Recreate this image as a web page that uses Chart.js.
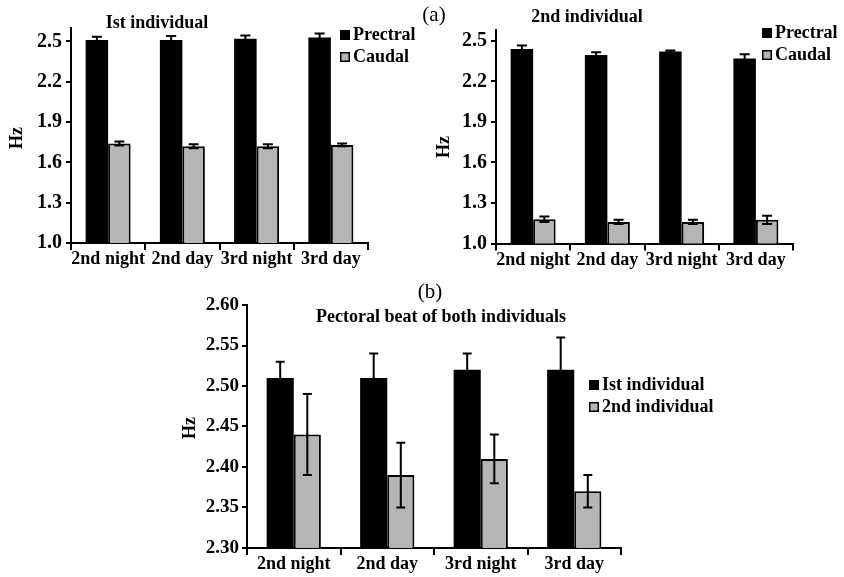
<!DOCTYPE html>
<html>
<head>
<meta charset="utf-8">
<script src="https://cdn.jsdelivr.net/npm/chart.js@4.4.1/dist/chart.umd.min.js"></script>
<style>
  html, body { margin: 0; padding: 0; background: #fff; }
  body { width: 844px; height: 577px; position: relative; overflow: hidden; }
  canvas { position: absolute; }
</style>
</head>
<body>
<canvas id="first-individual" width="422" height="280" style="left:0;top:0"></canvas>
<canvas id="second-individual" width="422" height="280" style="left:422px;top:0"></canvas>
<canvas id="both-individuals" width="600" height="307" style="left:170px;top:270px"></canvas>
<script>
// categories
const periods = ['2nd night', '2nd day', '3rd night', '3rd day'];

// (a) 1st individual
const prectral1 = [2.51, 2.51, 2.52, 2.53];
const prectral1Err = [0.025, 0.03, 0.025, 0.03];
const caudal1 = [1.74, 1.72, 1.72, 1.73];
const caudal1Err = [0.015, 0.015, 0.015, 0.01];

// (a) 2nd individual
const prectral2 = [2.44, 2.395, 2.42, 2.37];
const prectral2Err = [0.025, 0.02, 0.008, 0.03];
const caudal2 = [1.18, 1.16, 1.16, 1.175];
const caudal2Err = [0.02, 0.015, 0.015, 0.03];

// (b) pectoral beat of both
const pectoralInd1 = [2.51, 2.51, 2.52, 2.52];
const pectoralInd1Err = [0.02, 0.03, 0.02, 0.04];
const pectoralInd2 = [2.44, 2.39, 2.41, 2.37];
const pectoralInd2Err = [0.05, 0.04, 0.03, 0.02];

// tick labels
const topTicks = [1.0, 1.3, 1.6, 1.9, 2.2, 2.5];
const bottomTicks = [2.30, 2.35, 2.40, 2.45, 2.50, 2.55, 2.60];

const BLACK = '#000000';
const GREY = '#b5b5b5';
const FONT = "'Liberation Serif', 'Times New Roman', serif";

Chart.defaults.font.family = FONT;
Chart.defaults.color = '#000';

// error bars drawn through the y scale
const errorBars = {
  id: 'errorBars',
  afterDatasetsDraw(chart) {
    const { ctx } = chart;
    const y = chart.scales.y;
    ctx.save();
    ctx.strokeStyle = '#000';
    ctx.lineWidth = 2;
    chart.data.datasets.forEach((ds, i) => {
      if (!ds.errors) return;
      const half = ds.capWidth / 2;
      chart.getDatasetMeta(i).data.forEach((bar, j) => {
        const top = y.getPixelForValue(ds.data[j] + ds.errors[j]);
        const bot = y.getPixelForValue(ds.data[j] - ds.errors[j]);
        ctx.beginPath();
        ctx.moveTo(bar.x, top);
        ctx.lineTo(bar.x, bot);
        ctx.moveTo(bar.x - half, top);
        ctx.lineTo(bar.x + half, top);
        ctx.moveTo(bar.x - half, bot);
        ctx.lineTo(bar.x + half, bot);
        ctx.stroke();
      });
    });
    ctx.restore();
  }
};

// title, panel letter, Hz label and legend
function panelText(t) {
  return {
    id: 'panelText',
    afterDraw(chart) {
      const { ctx } = chart;
      ctx.save();
      ctx.fillStyle = '#000';
      ctx.font = 'bold 18px ' + FONT;
      ctx.textBaseline = 'middle';
      ctx.textAlign = 'center';
      ctx.fillText(t.title, t.titleX, t.titleY);
      if (t.letter) {
        ctx.font = '21px ' + FONT;
        ctx.fillText(t.letter, t.letterX, t.letterY);
        ctx.font = 'bold 18px ' + FONT;
      }

      ctx.save();
      ctx.translate(t.hzX, t.hzY);
      ctx.rotate(-Math.PI / 2);
      ctx.fillText('Hz', 0, 0);
      ctx.restore();

      ctx.textAlign = 'left';
      chart.data.datasets.forEach((ds, i) => {
        const ly = t.legendY + i * 22;
        ctx.fillStyle = ds.backgroundColor;
        ctx.fillRect(t.legendX, ly - 5, 10, 10);
        ctx.strokeStyle = '#000';
        ctx.lineWidth = 1.5;
        ctx.strokeRect(t.legendX + 0.75, ly - 4.25, 8.5, 8.5);
        ctx.fillStyle = '#000';
        ctx.fillText(ds.label, t.legendX + 13, ly);
      });
      ctx.restore();
    }
  };
}

function barPanel(id, p) {
  return new Chart(document.getElementById(id), {
    type: 'bar',
    data: {
      labels: periods,
      datasets: [
        {
          label: p.labels[0],
          data: p.black,
          errors: p.blackErr,
          capWidth: p.cap,
          backgroundColor: BLACK,
          borderWidth: 0
        },
        {
          label: p.labels[1],
          data: p.grey,
          errors: p.greyErr,
          capWidth: p.cap,
          backgroundColor: GREY,
          borderColor: BLACK,
          borderWidth: 2,
          borderSkipped: false
        }
      ]
    },
    options: {
      responsive: false,
      animation: false,
      devicePixelRatio: 1,
      layout: {
        padding: { left: 0, top: p.area.top, right: p.area.right, bottom: 0 }
      },
      plugins: {
        legend: { display: false },
        tooltip: { enabled: false }
      },
      datasets: {
        bar: { categoryPercentage: p.catPct, barPercentage: 1.0 }
      },
      scales: {
        x: {
          afterFit(scale) { scale.height = p.area.xHeight; },
          grid: {
            offset: true,
            drawOnChartArea: false,
            drawTicks: true,
            tickLength: 7,
            color: '#000',
            lineWidth: 2
          },
          border: { display: true, color: '#000', width: 2 },
          ticks: {
            autoSkip: false,
            maxRotation: 0,
            padding: -1,
            font: { size: 18, weight: 'bold' },
            color: '#000'
          }
        },
        y: {
          min: p.min,
          max: p.max,
          afterFit(scale) { scale.width = p.area.left; },
          afterBuildTicks(scale) {
            scale.ticks = p.ticks.map(v => ({ value: v }));
          },
          grid: {
            drawOnChartArea: false,
            drawTicks: true,
            tickLength: 5,
            color: '#000',
            lineWidth: 2
          },
          border: { display: true, color: '#000', width: 2 },
          ticks: {
            padding: p.tickPad,
            font: { size: p.tickSize, weight: 'bold' },
            color: '#000',
            callback: v => v.toFixed(p.decimals)
          }
        }
      }
    },
    plugins: [errorBars, panelText(p.text)]
  });
}

// (a) 1st individual
barPanel('first-individual', {
  labels: ['Prectral', 'Caudal'],
  black: prectral1, blackErr: prectral1Err,
  grey: caudal1, greyErr: caudal1Err,
  cap: 10,
  catPct: 0.606,
  min: 1.0, max: 2.6, ticks: topTicks, decimals: 1,
  tickSize: 20, tickPad: 4,
  area: { left: 71, top: 28, right: 54, xHeight: 37 },
  text: {
    title: 'Ist individual', titleX: 157, titleY: 23,
    hzX: 17, hzY: 138,
    legendX: 340, legendY: 35
  }
});

// (a) 2nd individual
barPanel('second-individual', {
  labels: ['Prectral', 'Caudal'],
  black: prectral2, blackErr: prectral2Err,
  grey: caudal2, greyErr: caudal2Err,
  cap: 10,
  catPct: 0.606,
  min: 1.0, max: 2.58, ticks: topTicks, decimals: 1,
  tickSize: 20, tickPad: 4,
  area: { left: 74, top: 30, right: 51, xHeight: 36.5 },
  text: {
    title: '2nd individual', titleX: 165, titleY: 17,
    letter: '(a)', letterX: 12, letterY: 15,
    hzX: 22, hzY: 147,
    legendX: 340, legendY: 33
  }
});

// (b) pectoral beat of both individuals
barPanel('both-individuals', {
  labels: ['Ist individual', '2nd individual'],
  black: pectoralInd1, blackErr: pectoralInd1Err,
  grey: pectoralInd2, greyErr: pectoralInd2Err,
  cap: 9,
  catPct: 0.58,
  min: 2.30, max: 2.60, ticks: bottomTicks, decimals: 2,
  tickSize: 19, tickPad: 3,
  area: { left: 77, top: 35, right: 149, xHeight: 29 },
  text: {
    title: 'Pectoral beat of both individuals', titleX: 271, titleY: 47,
    letter: '(b)', letterX: 260, letterY: 22,
    hzX: 20, hzY: 158,
    legendX: 419, legendY: 115
  }
});
</script>
</body>
</html>
